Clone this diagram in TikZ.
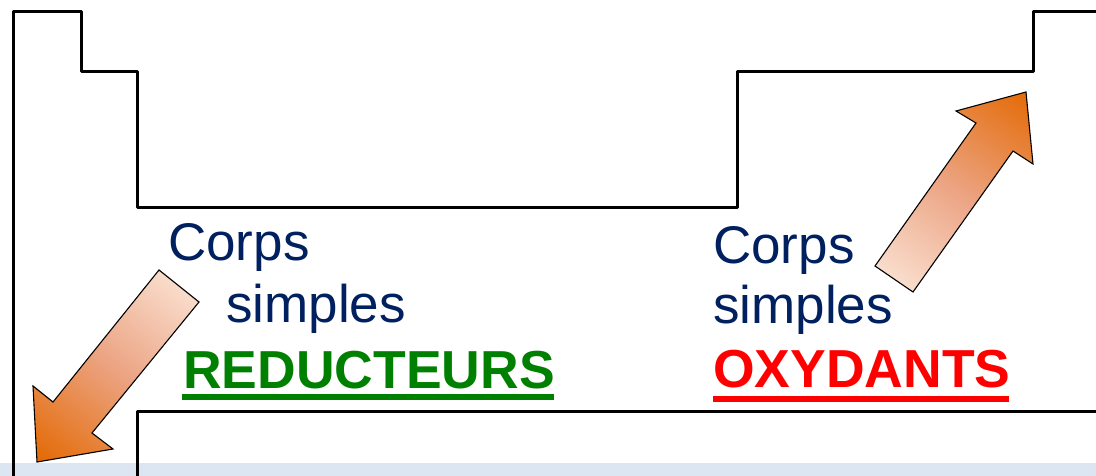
\documentclass[tikz,border=0pt]{standalone}
\usepackage{fontspec}
\setmainfont{Liberation Sans}
\definecolor{navy}{HTML}{002060}
\definecolor{grn}{HTML}{008000}
\definecolor{rd}{HTML}{FF0000}
\definecolor{strip}{HTML}{DCE6F2}
\definecolor{orng}{HTML}{E46C0A}
\definecolor{salmon}{HTML}{ECA585}
\definecolor{peach}{HTML}{FBE5D6}
\pgfdeclareverticalshading{arrowshade}{100bp}{color(0bp)=(orng); color(17bp)=(orng); color(50bp)=(salmon); color(83bp)=(peach); color(100bp)=(peach)}
\tikzset{
  outline/.style={line width=3pt, line join=round, black},
  bigarrow/.style={draw=black, line width=1.1pt, line join=miter, shading=arrowshade},
  txt/.style={inner sep=0pt, anchor=base west, font=\fontsize{53}{60}\selectfont},
  btxt/.style={inner sep=0pt, anchor=base west, font=\fontsize{53.5}{60}\selectfont\bfseries},
  uline/.style={line width=6pt},
}
\begin{document}
\begin{tikzpicture}[x=1pt,y=-1pt]
\useasboundingbox (0,0) rectangle (1096,476);
\fill[white] (0,0) rectangle (1096,476);
\fill[strip] (0,463) rectangle (1096,476);
% periodic table outline
\draw[outline] (13.5,476) -- (13.5,11.5) -- (81.5,11.5) -- (81.5,71.3) -- (137.5,71.3) -- (137.5,207.5)
  -- (737.5,207.5) -- (737.5,71.3) -- (1033.5,71.3) -- (1033.5,11.5) -- (1096,11.5);
\draw[outline] (137.5,476) -- (137.5,411.5) -- (1096,411.5);
% arrows
\draw[bigarrow, shading angle=-39] (159,270) -- (199,302) -- (92,433) -- (113,449) -- (37,462) -- (33,386) -- (53,402) -- cycle;
\draw[bigarrow, shading angle=145] (875,266) -- (976,123) -- (956,111) -- (1026,92) -- (1033,164) -- (1013,151) -- (913,292) -- cycle;
% texts
\node[txt, text=navy] (c1) at (168,260) {Corps};
\node[txt, text=navy] (s1) at (226,322) {simples};
\node[btxt, text=grn] (r1) at (183,388) {REDUCTEURS};
\draw[uline, grn] (181.7,396.5) -- (554,396.5);
\node[txt, text=navy] (c2) at (713,263) {Corps};
\node[txt, text=navy] (s2) at (713,323) {simples};
\node[btxt, text=rd] (o2) at (713,387) {OXYDANTS};
\draw[uline, rd] (712.7,399) -- (1009.3,399);
\end{tikzpicture}
\end{document}
